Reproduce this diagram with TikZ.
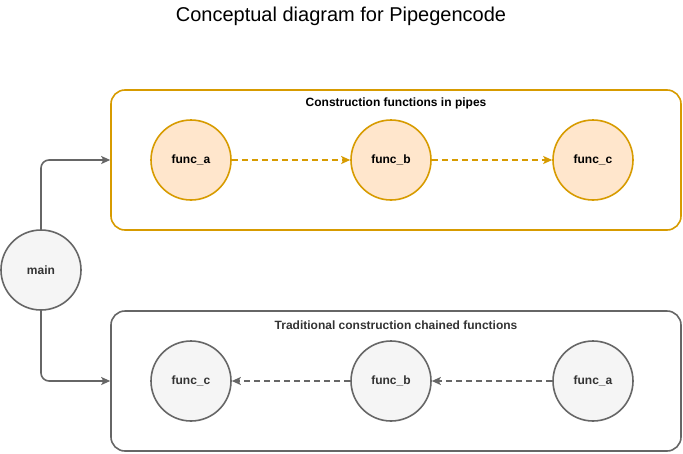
\documentclass[tikz,border=0pt]{standalone}
\usepackage{fontspec}
\setmainfont{Liberation Sans}
\usepackage{xcolor}
\usetikzlibrary{arrows.meta, positioning, calc}

\definecolor{pipeline}{HTML}{D79B00}
\definecolor{pipefill}{HTML}{FFE6CC}
\definecolor{chainline}{HTML}{666666}
\definecolor{chainfill}{HTML}{F5F5F5}
\definecolor{chaintext}{HTML}{333333}

\begin{document}
\begin{tikzpicture}[
    x=1pt, y=-1pt,
    group/.style={rectangle, rounded corners=14pt, draw, line width=1.6pt, minimum width=570pt, minimum height=140pt},
    func/.style={circle, draw, line width=1.6pt, minimum size=80pt, inner sep=0pt, font=\fontsize{12}{14}\selectfont\bfseries},
    grouptitle/.style={font=\fontsize{12}{14}\selectfont\bfseries, inner sep=0pt},
    arrow/.style={-{Stealth[length=9pt, width=8pt, inset=2pt]}, line width=1.6pt},
    flow/.style={arrow, dash pattern=on 6pt off 4pt}
]
    \useasboundingbox (0,0) rectangle (683,453);
    \node[font=\fontsize{20}{24}\selectfont] (title) at (341,16) {Conceptual diagram for Pipegencode};

    % pipes
    \node[group, draw=pipeline] (pipes) at (396,160) {};
    \node[grouptitle, text=black] (pipestitle) at (396,103) {Construction functions in pipes};
    \node[func, draw=pipeline, fill=pipefill] (pa) at (191,160) {func\_a};
    \node[func, draw=pipeline, fill=pipefill] (pb) at (391,160) {func\_b};
    \node[func, draw=pipeline, fill=pipefill] (pc) at (593,160) {func\_c};

    % chained
    \node[group, draw=chainline] (chain) at (396,381) {};
    \node[grouptitle, text=chaintext] (chaintitle) at (396,325) {Traditional construction chained functions};
    \node[func, draw=chainline, fill=chainfill, text=chaintext] (cc) at (191,381) {func\_c};
    \node[func, draw=chainline, fill=chainfill, text=chaintext] (cb) at (391,381) {func\_b};
    \node[func, draw=chainline, fill=chainfill, text=chaintext] (ca) at (593,381) {func\_a};

    \node[func, draw=chainline, fill=chainfill, text=chaintext] (main) at (41,270) {main};

    \draw[arrow, chainline, rounded corners=8pt] (main.north) |- (pipes.west);
    \draw[arrow, chainline, rounded corners=8pt] (main.south) |- (chain.west);

    \draw[flow, pipeline] (pa) -- (pb);
    \draw[flow, pipeline] (pb) -- (pc);
    \draw[flow, chainline] (ca) -- (cb);
    \draw[flow, chainline] (cb) -- (cc);
\end{tikzpicture}
\end{document}
